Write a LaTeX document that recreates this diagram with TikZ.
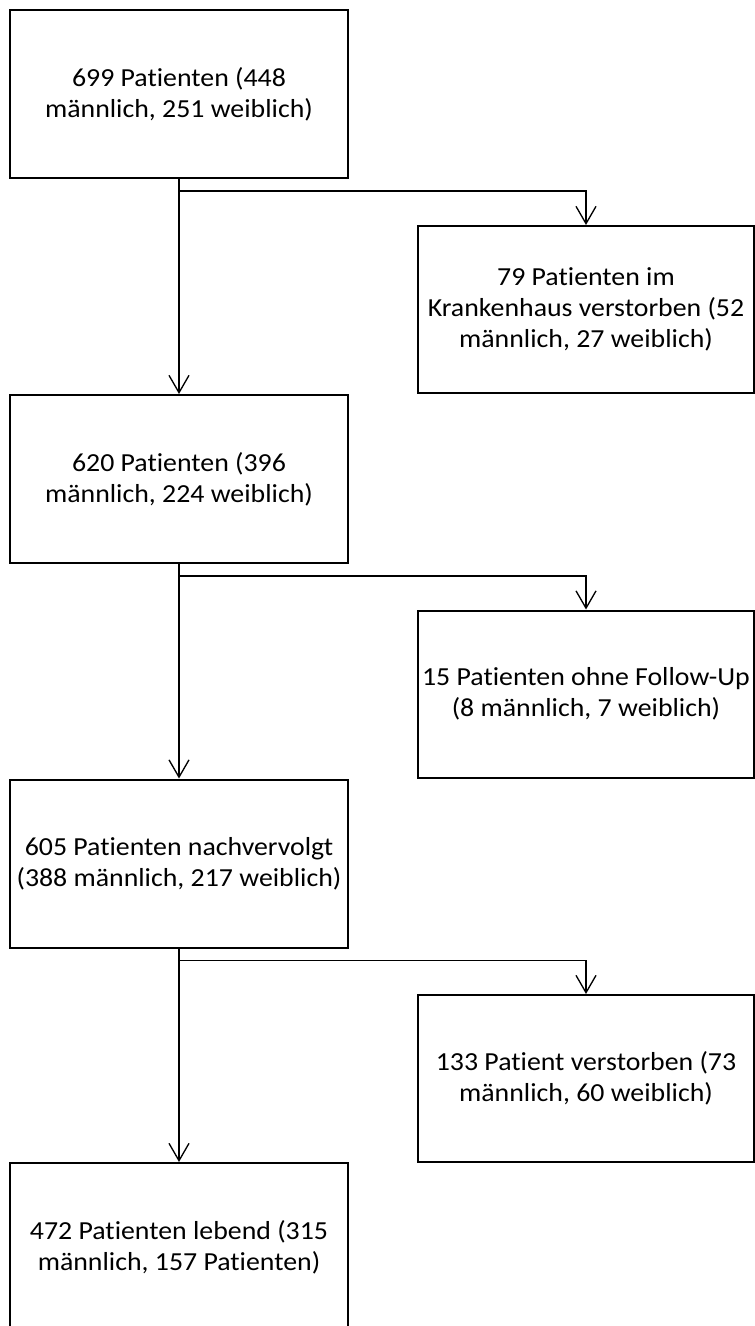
\documentclass[tikz,border=0pt]{standalone}
\usepackage{fontspec}
\setmainfont{Carlito}[Ligatures=NoCommon,FakeStretch=1.07]
\usepackage{tikz}
\usetikzlibrary{arrows.meta}

\begin{document}
\begin{tikzpicture}
			[x=0.75pt,y=-0.75pt,
			box/.style={rectangle, draw=black, line width=1.5pt, fill=white, align=center, inner sep=0pt, minimum height=126pt, font=\fontsize{19.5}{23.25}\selectfont},
			leftbox/.style={box, minimum width=253.5pt},
			rightbox/.style={box, minimum width=252pt, minimum height=125.25pt},
			flow/.style={line width=1pt, color=black, -{Straight Barb[length=13pt,width=15pt]}}]
			\useasboundingbox (0,0) rectangle (755,1326);
			\node (1) [leftbox] at (179, 94) {699 Patienten (448\\männlich, 251 weiblich)};
			\node (2) [rightbox] at (586, 309.5) {79 Patienten im\\Krankenhaus verstorben (52\\männlich, 27 weiblich)};
			\node (3) [leftbox] at (179, 479) {620 Patienten (396\\männlich, 224 weiblich)};
			\node (4) [rightbox] at (586, 694) {15 Patienten ohne Follow-Up\\(8 männlich, 7 weiblich)};
			\node (5) [leftbox] at (179, 863.5) {605 Patienten nachvervolgt\\(388 männlich, 217 weiblich)};
			\node (6) [rightbox] at (586, 1078.5) {133 Patient verstorben (73\\männlich, 60 weiblich)};
			\node (7) [leftbox] at (179, 1247) {472 Patienten lebend (315\\männlich, 157 Patienten)};
			\draw [flow] (1) to (3);
			\draw [flow] (1.south) -- ++(0,12) -| (2.north);
			\draw [flow] (3) to (5);
			\draw [flow] (3.south) -- ++(0,12) -| (4.north);
			\draw [flow] (5) to (7);
			\draw [flow] (5.south) -- ++(0,12) -| (6.north);
		\end{tikzpicture}
\end{document}
